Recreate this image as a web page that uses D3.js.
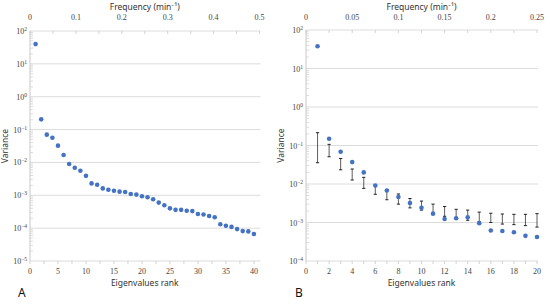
<!DOCTYPE html>
<html><head><meta charset="utf-8">
<script src="https://cdn.jsdelivr.net/npm/d3@7"></script>
<style>body{margin:0;background:#fff}svg{display:block}</style>
</head><body>
<svg id="c" width="550" height="304"></svg>
<script>
// Panel A data
const ranksA = d3.range(1, 41);
const varianceA = [40, 0.205, 0.07, 0.0566, 0.0324, 0.0168, 0.0090, 0.0069, 0.0056, 0.0039,
  0.0023, 0.0021, 0.00162, 0.00148, 0.00138, 0.00129, 0.00126, 0.0011, 0.00105, 0.00093,
  0.00087, 0.00076, 0.0006, 0.0005, 0.0004, 0.00036, 0.00036, 0.00034, 0.00033, 0.00027,
  0.00026, 0.000234, 0.000214, 0.000131, 0.000118, 0.000109, 0.0000935, 0.0000812, 0.0000795, 0.000066];
// Panel B data
const ranksB = d3.range(1, 21);
const varianceB = [37.7, 0.150, 0.069, 0.037, 0.020, 0.0091, 0.0068, 0.0046, 0.0032, 0.0024,
  0.0017, 0.00123, 0.00129, 0.00136, 0.00096, 0.00062, 0.0006, 0.00056, 0.00045, 0.00042];
const errHighB = [0.215, 0.107, 0.046, 0.0245, 0.0149, 0.0096, 0.0071, 0.0055, 0.0042, 0.0036,
  0.0030, 0.0026, 0.0022, 0.0021, 0.00186, 0.00174, 0.00166, 0.00163, 0.00163, 0.0017];
const errLowB = [0.0357, 0.051, 0.0234, 0.0127, 0.0077, 0.0054, 0.0039, 0.0030, 0.0024, 0.0021,
  0.0017, 0.00145, 0.00127, 0.00114, 0.00105, 0.0010, 0.00091, 0.00088, 0.00083, 0.00076];
// Axis ticks
const freqTicksA = [0, 0.1, 0.2, 0.3, 0.4, 0.5];
const freqTicksB = [0, 0.05, 0.1, 0.15, 0.2, 0.25];
const rankTicksA = [0, 5, 10, 15, 20, 25, 30, 35, 40];
const rankTicksB = [0, 2, 4, 6, 8, 10, 12, 14, 16, 18, 20];
const expTicksA = [2, 1, 0, -1, -2, -3, -4, -5];
const expTicksB = [2, 1, 0, -1, -2, -3, -4];

const svg = d3.select("#c");
const serif = "'Liberation Serif', 'DejaVu Serif', serif";
const sans = "'Noto Sans', 'Open Sans', sans-serif";
const blue = "#4472C4";

function panel(o) {
  const g = svg.append("g");
  const x = d3.scaleLinear().domain(o.rankDomain).range([o.x0, o.x1]);
  const xt = d3.scaleLinear().domain(o.freqDomain).range([o.x0, o.x1]);
  const y = d3.scaleLog().domain(o.yDomain).range([o.y1, o.y0]);

  // gridlines
  g.selectAll(".grid").data(o.exps).join("line")
    .attr("x1", o.x0).attr("x2", o.x1 + 1)
    .attr("y1", d => y(Math.pow(10, d))).attr("y2", d => y(Math.pow(10, d)))
    .attr("stroke", "#dcdcdc").attr("stroke-width", 1);

  // left axis line + minor ticks
  g.append("line").attr("x1", o.x0).attr("x2", o.x0).attr("y1", o.y0).attr("y2", o.y1)
    .attr("stroke", "#c8c8c8");
  const minors = [];
  o.exps.forEach(e => { if (e < o.exps[0]) for (let k = 2; k < 10; k++) minors.push(k * Math.pow(10, e)); });
  g.selectAll(".mt").data(minors).join("line")
    .attr("x1", o.x0).attr("x2", o.x0 + 3)
    .attr("y1", d => y(d)).attr("y2", d => y(d))
    .attr("stroke", "#cfcfcf").attr("stroke-width", 0.7);

  // y tick labels 10^n
  const yl = g.selectAll(".yl").data(o.exps).join("text")
    .attr("x", o.x0 - 3).attr("y", d => y(Math.pow(10, d)) + 3)
    .attr("text-anchor", "end").attr("font-family", serif).attr("font-size", 8).attr("fill", "#444");
  yl.append("tspan").text("10");
  yl.append("tspan").attr("dy", -3).attr("font-size", 5.5)
    .text(d => d < 0 ? "\u2212" + Math.abs(d) : String(d));

  // top axis ticks (major + minor)
  const topAll = d3.range(0, o.freqTicks.length * 2 - 1).map(i => i * (o.freqTicks[1] - o.freqTicks[0]) / 2);
  g.selectAll(".tt").data(topAll).join("line")
    .attr("x1", d => xt(d)).attr("x2", d => xt(d))
    .attr("y1", o.y0).attr("y2", o.y0 + 3)
    .attr("stroke", "#c8c8c8").attr("stroke-width", 0.8);
  g.selectAll(".tl").data(o.freqTicks).join("text")
    .attr("x", d => xt(d)).attr("y", 20)
    .attr("text-anchor", "middle").attr("font-family", serif).attr("font-size", 8).attr("fill", "#444")
    .text(d => String(d));
  g.append("text").attr("x", (o.x0 + o.x1) / 2).attr("y", 10)
    .attr("text-anchor", "middle").attr("font-family", sans).attr("font-size", 8.5).attr("fill", "#333")
    .text("Frequency (min\u207B\u00B9)");

  // bottom axis
  const minorB = d3.range(0, o.rankTicks.length * 2 - 1).map(i => i * (o.rankTicks[1] - o.rankTicks[0]) / 2);
  g.selectAll(".bt").data(minorB).join("line")
    .attr("x1", d => x(d)).attr("x2", d => x(d))
    .attr("y1", o.y1).attr("y2", o.y1 + 3)
    .attr("stroke", "#c8c8c8").attr("stroke-width", 0.8);
  g.selectAll(".bl").data(o.rankTicks).join("text")
    .attr("x", d => x(d)).attr("y", o.y1 + 13)
    .attr("text-anchor", "middle").attr("font-family", serif).attr("font-size", 8).attr("fill", "#444")
    .text(d => String(d));
  g.append("text").attr("x", (o.x0 + o.x1) / 2).attr("y", o.y1 + 25)
    .attr("text-anchor", "middle").attr("font-family", sans).attr("font-size", 8.5).attr("fill", "#333")
    .text("Eigenvalues rank");

  // y title
  g.append("text").attr("transform", `translate(${o.x0 - 22},${(o.y0 + o.y1) / 2}) rotate(-90)`)
    .attr("text-anchor", "middle").attr("font-family", sans).attr("font-size", 8.5).attr("fill", "#333")
    .text("Variance");

  // panel letter
  g.append("text").attr("x", o.letterX).attr("y", 297)
    .attr("font-family", sans).attr("font-size", 12).attr("fill", "#111").text(o.letter);

  // error bars
  if (o.hi) {
    const eb = g.selectAll(".eb").data(o.ranks).join("g");
    eb.append("line").attr("x1", d => x(d)).attr("x2", d => x(d))
      .attr("y1", (d, i) => y(o.hi[i])).attr("y2", (d, i) => y(o.lo[i]))
      .attr("stroke", "#333").attr("stroke-width", 0.8);
    eb.append("line").attr("x1", d => x(d) - 1.6).attr("x2", d => x(d) + 1.6)
      .attr("y1", (d, i) => y(o.hi[i])).attr("y2", (d, i) => y(o.hi[i]))
      .attr("stroke", "#222").attr("stroke-width", 1);
    eb.append("line").attr("x1", d => x(d) - 1.6).attr("x2", d => x(d) + 1.6)
      .attr("y1", (d, i) => y(o.lo[i])).attr("y2", (d, i) => y(o.lo[i]))
      .attr("stroke", "#222").attr("stroke-width", 1);
  }

  // points
  g.selectAll(".pt").data(o.ranks).join("circle")
    .attr("cx", d => x(d)).attr("cy", (d, i) => y(o.vals[i]))
    .attr("r", 2.3).attr("fill", blue);
}

panel({ x0: 30, x1: 259.5, y0: 31, y1: 261, rankDomain: [0, 41], freqDomain: [0, 0.5],
  yDomain: [1e-5, 1e2], exps: expTicksA, freqTicks: freqTicksA, rankTicks: rankTicksA,
  ranks: ranksA, vals: varianceA, letter: "A", letterX: 18 });
panel({ x0: 306, x1: 537, y0: 30, y1: 261, rankDomain: [0, 20], freqDomain: [0, 0.25],
  yDomain: [1e-4, 1e2], exps: expTicksB, freqTicks: freqTicksB, rankTicks: rankTicksB,
  ranks: ranksB, vals: varianceB, hi: errHighB, lo: errLowB, letter: "B", letterX: 295 });
</script>
</body></html>
